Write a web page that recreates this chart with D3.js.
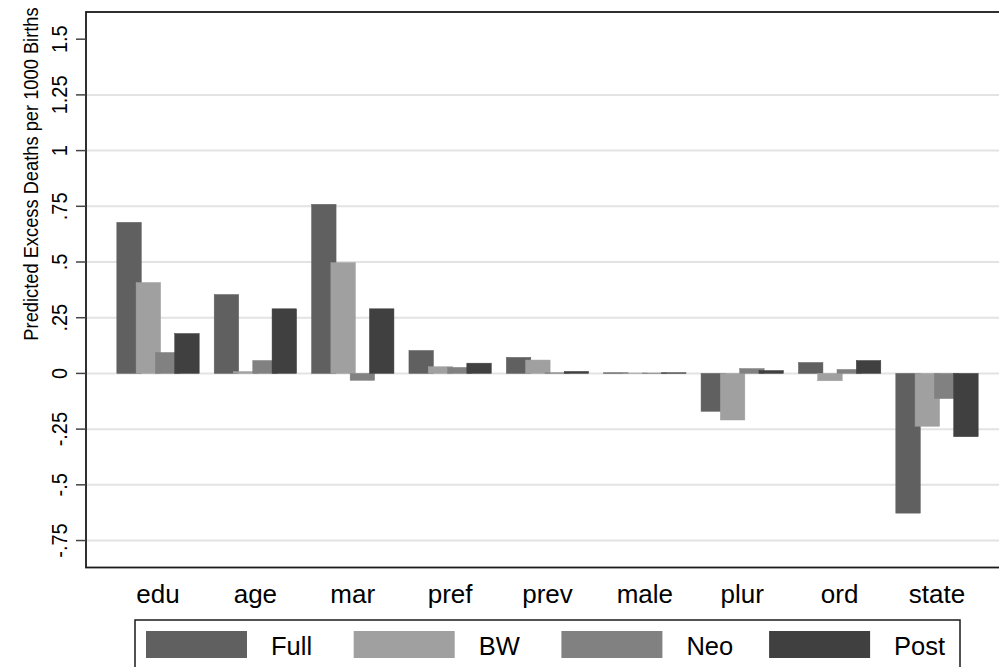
<!DOCTYPE html>
<html>
<head>
<meta charset="utf-8">
<script src="https://cdn.jsdelivr.net/npm/d3@7"></script>
<style>
body { margin: 0; background: #fff; }
text { font-family: "Liberation Sans", Arial, sans-serif; }
</style>
</head>
<body>
<svg id="chart" width="999" height="667"></svg>
<script>
// data
var categories = ["edu", "age", "mar", "pref", "prev", "male", "plur", "ord", "state"];
var series = ["Full", "BW", "Neo", "Post"];
var full = [0.678, 0.354, 0.759, 0.103, 0.072, 0.003, -0.170, 0.049, -0.627];
var bw   = [0.408, 0.008, 0.497, 0.030, 0.060, 0.002, -0.209, -0.033, -0.237];
var neo  = [0.094, 0.058, -0.031, 0.027, 0.003, 0.002, 0.022, 0.018, -0.113];
var post = [0.179, 0.290, 0.290, 0.046, 0.009, 0.003, 0.013, 0.058, -0.284];
var yTicks = [-0.75, -0.5, -0.25, 0, 0.25, 0.5, 0.75, 1, 1.25, 1.5];
var yTickLabels = ["-.75", "-.5", "-.25", "0", ".25", ".5", ".75", "1", "1.25", "1.5"];

var values = {Full: full, BW: bw, Neo: neo, Post: post};
var colors = {Full: "#606060", BW: "#a0a0a0", Neo: "#818181", Post: "#404040"};

var svg = d3.select("#chart");
var plotL = 86, plotR = 1009, plotT = 12, plotB = 567.5;
var barW = 24.5;

var x0 = d3.scaleBand().domain(categories).range([plotL, plotR])
           .paddingInner(0.154).paddingOuter(0.3165);
var x1 = d3.scalePoint().domain(series).range([0, x0.bandwidth() - barW]);
var y = d3.scaleLinear().domain([-0.871, 1.622]).range([plotB, plotT]);

// gridlines (none at the top tick)
svg.append("g")
   .selectAll("line")
   .data(yTicks.filter(function(d) { return d < 1.5; }))
   .enter().append("line")
   .attr("x1", plotL).attr("x2", plotR)
   .attr("y1", function(d) { return y(d); })
   .attr("y2", function(d) { return y(d); })
   .attr("stroke", "#e3e3e3")
   .attr("stroke-width", 2);

// bars, drawn series by series so later ones overlap
series.forEach(function(s) {
	svg.append("g")
	 .selectAll("rect")
	 .data(categories)
	 .enter().append("rect")
	 .attr("x", function(c) { return x0(c) + x1(s); })
	 .attr("y", function(c, i) { return y(Math.max(0, values[s][i])); })
	 .attr("width", barW)
	 .attr("height", function(c, i) { return Math.abs(y(values[s][i]) - y(0)); })
	 .attr("fill", colors[s])
	 .attr("stroke", colors[s])
	 .attr("stroke-width", 0.5);
});

// frame
svg.append("rect")
   .attr("x", plotL).attr("y", plotT)
   .attr("width", plotR - plotL).attr("height", plotB - plotT)
   .attr("fill", "none")
   .attr("stroke", "#1a1a1a")
   .attr("stroke-width", 1.8);

// y axis ticks and rotated labels
var yAxis = svg.append("g");
yAxis.selectAll("line")
     .data(yTicks)
     .enter().append("line")
     .attr("x1", plotL - 10).attr("x2", plotL)
     .attr("y1", function(d) { return y(d); })
     .attr("y2", function(d) { return y(d); })
     .attr("stroke", "#444")
     .attr("stroke-width", 1.5);
yAxis.selectAll("text")
     .data(yTicks)
     .enter().append("text")
     .attr("transform", function(d) { return "translate(67," + y(d) + ") rotate(-90) scale(1,1.1)"; })
     .attr("text-anchor", "middle")
     .attr("font-size", "20px")
     .attr("fill", "#000")
     .text(function(d, i) { return yTickLabels[i]; });

svg.append("text")
   .attr("transform", "translate(38,174) rotate(-90) scale(1,1.12)")
   .attr("text-anchor", "middle")
   .attr("font-size", "18.3px")
   .attr("fill", "#000")
   .text("Predicted Excess Deaths per 1000 Births");

// category labels
svg.append("g")
   .selectAll("text")
   .data(categories)
   .enter().append("text")
   .attr("x", function(c) { return x0(c) + x0.bandwidth() / 2; })
   .attr("y", 603)
   .attr("text-anchor", "middle")
   .attr("font-size", "26px")
   .attr("fill", "#000")
   .text(function(c) { return c; });

// legend
var legend = svg.append("g");
legend.append("rect")
      .attr("x", 135).attr("y", 620)
      .attr("width", 825).attr("height", 70)
      .attr("fill", "#fff")
      .attr("stroke", "#1a1a1a")
      .attr("stroke-width", 1.5);
var item = legend.selectAll("g.item")
      .data(series)
      .enter().append("g")
      .attr("class", "item")
      .attr("transform", function(s, i) { return "translate(" + (146 + i * 207.7) + ",631)"; });
item.append("rect")
    .attr("width", 101).attr("height", 27)
    .attr("fill", function(s) { return colors[s]; });
item.append("text")
    .attr("x", 125).attr("y", 24)
    .attr("font-size", "25.5px")
    .attr("fill", "#000")
    .text(function(s) { return s; });
</script>
</body>
</html>
